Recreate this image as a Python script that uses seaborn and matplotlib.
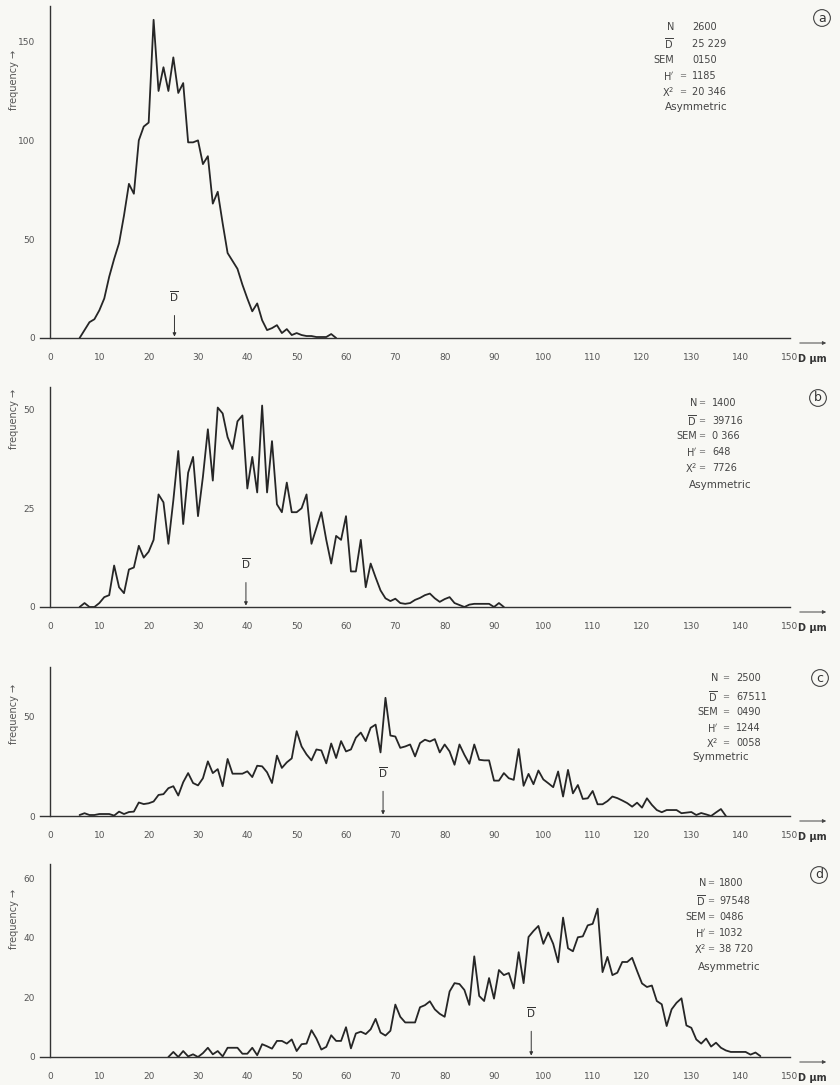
import numpy as np
import pandas as pd
import seaborn as sns
import matplotlib.pyplot as plt

"""
Data read off the four size-frequency panels (bin = 1 um)
"""
a_x = list(range(6, 59))
a_y = [0, 4, 8, 9.5, 14, 20, 31, 40, 48, 62, 78, 73, 100, 107, 109, 161, 125, 137, 125, 142,
       124, 129, 99, 99, 100, 88, 92, 68, 74, 58, 43, 39, 35, 27, 20, 13.5, 17.5, 9, 4, 5,
       6.5, 2.5, 4.5, 1.5, 2.5, 1.5, 1, 1, 0.5, 0.5, 0.5, 2, 0]

b_x = list(range(6, 93))
b_y = [0, 1, 0, 0, 1, 2.5, 3, 10.5, 5, 3.5, 9.5, 10, 15.5, 12.5, 14, 17, 28.5, 26.5, 16, 27,
       39.5, 21, 34, 38, 23, 33, 45, 32, 50.5, 49, 43, 40, 47, 48.5, 30, 38, 29, 51, 29, 42,
       26, 24, 31.5, 24, 24, 25, 28.5, 16, 20, 24, 17, 11, 18, 17, 23, 9, 9, 17, 5, 11,
       7.5, 4.2, 2.2, 1.5, 2.1, 1, 0.8, 1, 1.8, 2.3, 3, 3.4, 2.2, 1.3, 2, 2.5, 1, 0.5, 0, 0.6,
       0.8, 0.8, 0.8, 0.8, 0, 1, 0]

c_x = list(range(6, 138))
c_y = [0.5, 1.4, 0.5, 0.5, 1, 1, 1, 0.2, 2.2, 1, 2, 2.2, 6.8, 6, 6.4, 7.3, 10.6, 11, 14, 15,
       10.3, 17, 21.6, 16.6, 15.4, 19, 27.5, 21.6, 23.6, 15, 28.7, 21.3, 21.3, 21.3, 22.5, 19.6, 25.3, 25, 22, 16.6,
       30.4, 24.2, 27, 29, 42.7, 35, 31, 28, 33.5, 33, 26.5, 36.5, 29.2, 37.7, 32.5, 33.5, 39.4, 42, 37.7, 44.4,
       46, 32, 59.5, 40.5, 40, 34.3, 35, 36, 30, 36.7, 38.4, 37.5, 38.7, 32, 36, 32.5, 25.8, 36, 30.8, 26.3,
       36, 28.3, 28, 28, 17.8, 17.8, 21.6, 19, 18.2, 33.7, 15.2, 21.2, 16, 22.9, 18.4, 16.5, 14.5, 22.4, 9.8, 23.2,
       11.4, 15.6, 8.6, 8.9, 12.6, 5.9, 5.9, 7.5, 9.8, 9, 7.8, 6.5, 4.7, 6.7, 4.2, 8.9, 5.6, 3, 1.9, 3,
       3, 3, 1.4, 1.7, 2, 0.5, 1.5, 0.8, 0, 1.8, 3.5, 0]

d_x = list(range(24, 145))
d_y = [0, 1.7, 0, 2, 0.2, 0.9, 0, 1.3, 3.1, 0.9, 2, 0.2, 3.1, 3.1, 3.1, 1.1, 1.1, 3.1, 0.6, 4.3,
       3.6, 2.8, 5.4, 5.4, 4.5, 5.9, 2, 4.3, 4.5, 9, 6.2, 2.5, 3.4, 7.3, 5.4, 5.4, 10, 2.9, 7.9, 8.5,
       7.7, 9.3, 12.8, 8.2, 7.2, 8.8, 17.6, 13.5, 11.6, 11.6, 11.6, 16.7, 17.4, 18.7, 16, 14.5, 13.5, 22, 24.8, 24.5,
       22.5, 17.5, 33.8, 20.5, 18.8, 26.5, 19.6, 29.2, 27.5, 28.2, 23, 35.2, 24.8, 40.3, 42.3, 44, 38, 41.8, 38, 31.8,
       46.8, 36.5, 35.5, 40.2, 40.5, 44.2, 44.7, 49.8, 28.5, 33.6, 27.5, 28.3, 31.9, 31.9, 33.3, 28.9, 24.7, 23.5, 24, 18.8,
       17.7, 10.4, 16, 18.2, 19.7, 10.6, 9.8, 5.9, 4.5, 6.2, 3.5, 4.8, 3.1, 2.2, 1.7, 1.7, 1.7, 1.7, 0.8, 1.5,
       0.3]

x_ticks = list(range(0, 151, 10))
panel_letters = ['a', 'b', 'c', 'd']
yticks = [[0, 50, 100, 150], [0, 25, 50], [0, 50], [0, 20, 40, 60]]
ymax = [168, 55.7, 75, 64.8]
means = [25.229, 39.716, 67.511, 97.548]

stat_labels = ['N', r'$\overline{\mathrm{D}}$', 'SEM', r'H$^{\prime}$', r'X$^{2}$']
stat_values = [['2600', '25 229', '0150', '1185', '20 346'],
               ['1400', '39716', '0 366', '648', '7726'],
               ['2500', '67511', '0490', '1244', '0058'],
               ['1800', '97548', '0486', '1032', '38 720']]
verdicts = ['Asymmetric', 'Asymmetric', 'Symmetric', 'Asymmetric']

"""
Layout (pixel positions of each panel on the 840x1085 page)
"""
W, H = 840, 1085
BG = '#f8f8f4'
LINE = '#262626'
GREY = '#555555'

tops = [6, 387, 667, 864]
bottoms = [338, 607, 816, 1057]
ylab_top = [50, 389, 684, 889]
dbar_h = [21, 11, 22, 15]
rows_y = [[27, 44, 60, 76, 92], [403, 421, 436, 452, 468],
          [678, 697, 712, 728, 743], [883, 901, 917, 933, 949]]
lab_r = [674, 697, 718, 706]
eq_x = [683, 702, 726, 711]
val_l = [692, 712, 736, 719]
verdict_pos = [(665, 107), (689, 485), (692, 757), (698, 967)]
circle_pos = [(822, 18), (818, 398), (820, 678), (819, 875)]
show_eq = [[False, False, False, True, True]] + [[True] * 5] * 3

sns.set_style('white')
plt.rcParams['font.family'] = ['DejaVu Sans']
plt.rcParams['mathtext.fontset'] = 'dejavusans'


def fx(x):
    return x / W


def fy(y):
    return 1 - y / H


fig = plt.figure(figsize=(8.4, 10.85), dpi=100)
fig.patch.set_facecolor(BG)

series = [(a_x, a_y), (b_x, b_y), (c_x, c_y), (d_x, d_y)]
ux = 740 / 150
left_px = 50 - 2 * ux

for i, (xs, ys) in enumerate(series):
    ax = fig.add_axes([fx(left_px), fy(bottoms[i]), (790 - left_px) / W, (bottoms[i] - tops[i]) / H])
    ax.set_facecolor('none')
    df = pd.DataFrame({'D': xs, 'freq': ys})
    sns.lineplot(data=df, x='D', y='freq', ax=ax, color=LINE, linewidth=1.3, estimator=None)
    ax.set_xlim(-2, 150)
    ax.set_ylim(0, ymax[i])
    ax.set_xlabel('')
    ax.set_ylabel('')
    for s in ['top', 'right']:
        ax.spines[s].set_visible(False)
    ax.spines['left'].set_position(('data', 0))
    ax.spines['left'].set_color('#333333')
    ax.spines['bottom'].set_color('#333333')
    ax.spines['left'].set_linewidth(1.0)
    ax.spines['bottom'].set_linewidth(1.0)
    ax.set_xticks(x_ticks)
    ax.set_yticks(yticks[i])
    ax.tick_params(axis='x', direction='out', length=4, width=0.8, pad=7,
                   labelsize=6.5, labelcolor=GREY, color='#333333')
    ax.tick_params(axis='y', direction='out', length=4, width=0.8, pad=7,
                   labelsize=6.5, labelcolor=GREY, color='#333333')

    # unit label after the last tick
    ax.annotate('D μm', xy=(150, 0), xycoords='data', xytext=(8, -21),
                textcoords='offset pixels', ha='left', va='center',
                fontsize=7, fontweight='bold', color='#333333', annotation_clip=False)
    # arrow at the right end of the D axis
    ax.annotate('', xy=(fx(829), fy(bottoms[i] + 5)), xytext=(fx(797), fy(bottoms[i] + 5)),
                xycoords='figure fraction',
                arrowprops=dict(arrowstyle='-|>', lw=0.7, color='#444444', mutation_scale=5))

    # mean marker
    ax.annotate(r'$\overline{\mathrm{D}}$', xy=(means[i], 0), xytext=(means[i], dbar_h[i]),
                ha='center', va='center', fontsize=7.5, color='#333333',
                arrowprops=dict(arrowstyle='-|>', lw=0.7, color='#333333',
                                shrinkA=6, shrinkB=1, mutation_scale=5))

    # y label
    fig.text(fx(14), fy(ylab_top[i]), 'frequency →', rotation=90, ha='center', va='top',
             fontsize=7, color=GREY)

    # statistics block
    for j, lab in enumerate(stat_labels):
        y = fy(rows_y[i][j])
        fig.text(fx(lab_r[i]), y, lab, ha='right', va='center', fontsize=7, color='#444444')
        if show_eq[i][j]:
            fig.text(fx(eq_x[i]), y, '=', ha='center', va='center', fontsize=6, color='#777777')
        fig.text(fx(val_l[i]), y, stat_values[i][j], ha='left', va='center', fontsize=7, color='#444444')
    vx, vy = verdict_pos[i]
    fig.text(fx(vx), fy(vy), verdicts[i], ha='left', va='center', fontsize=7.5, color='#444444')

    cx, cy = circle_pos[i]
    fig.text(fx(cx), fy(cy), panel_letters[i], ha='center', va='center', fontsize=9, color='#333333',
             bbox=dict(boxstyle='circle,pad=0.15', fc='none', ec='#444444', lw=0.8))

fig.savefig('out.png', dpi=100, facecolor=BG)
